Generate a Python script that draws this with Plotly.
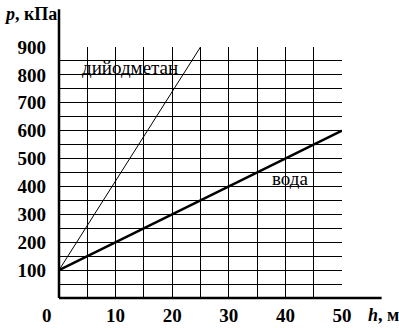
import plotly.graph_objects as go

h_water = [0, 50]
p_water = [100, 600]
h_diiod = [0, 25]
p_diiod = [100, 900]
x_ticks = [10, 20, 30, 40, 50]
y_ticks = [100, 200, 300, 400, 500, 600, 700, 800, 900]

FONT = "'Liberation Serif', 'Times New Roman', 'DejaVu Serif', serif"

fig = go.Figure()
fig.add_trace(go.Scatter(x=h_diiod, y=p_diiod, mode="lines",
                         line=dict(color="black", width=1), showlegend=False))
fig.add_trace(go.Scatter(x=h_water, y=p_water, mode="lines",
                         line=dict(color="black", width=2.5), showlegend=False))

axis_common = dict(showline=False, zeroline=False, showgrid=True, gridcolor="black",
                   gridwidth=1, ticks="", automargin=False,
                   tickfont=dict(family=FONT, size=19, color="black", weight="bold"))
fig.update_xaxes(range=[0, 50], tickvals=x_ticks, ticktext=[str(v) for v in x_ticks],
                 minor=dict(dtick=5, tick0=0, showgrid=True, gridcolor="black", gridwidth=1),
                 ticklabelstandoff=4, **axis_common)
fig.update_yaxes(range=[0, 900], tickvals=y_ticks, ticktext=[str(v) for v in y_ticks],
                 minor=dict(dtick=50, tick0=0, showgrid=True, gridcolor="black", gridwidth=1),
                 ticklabelstandoff=12, **axis_common)

# axes with arrows
fig.add_shape(type="line", xref="paper", yref="paper", x0=0, y0=0, x1=0, y1=1.15,
              line=dict(color="black", width=2.5))
fig.add_shape(type="line", xref="paper", yref="paper", x0=0, y0=0, x1=1.14, y1=0,
              line=dict(color="black", width=2.5))
fig.add_annotation(x=0, y=1.167, xref="paper", yref="paper", ax=0, ay=1,
                   showarrow=True, arrowhead=2, arrowsize=1.2, arrowwidth=2, arrowcolor="black",
                   text="")
fig.add_annotation(x=1.152, y=0, xref="paper", yref="paper", ax=-1, ay=0,
                   showarrow=True, arrowhead=2, arrowsize=1.2, arrowwidth=2, arrowcolor="black",
                   text="")

fig.add_annotation(x=-0.042, y=-0.068, xref="paper", yref="paper", text="<b>0</b>",
                   showarrow=False, font=dict(family=FONT, size=19, color="black"),
                   xanchor="center", yanchor="middle")
fig.add_annotation(x=-0.2, y=1.13, xref="paper", yref="paper",
                   text="<b><i>p</i>, кПа</b>", showarrow=False,
                   font=dict(family=FONT, size=18, color="black"),
                   xanchor="left", yanchor="middle")
fig.add_annotation(x=1.085, y=-0.068, xref="paper", yref="paper",
                   text="<b><i>h</i>, м</b>", showarrow=False,
                   font=dict(family=FONT, size=18, color="black"),
                   xanchor="left", yanchor="middle")

fig.add_annotation(x=3.7, y=828, text="дийодметан", showarrow=False,
                   font=dict(family=FONT, size=19, color="black"),
                   xanchor="left", yanchor="middle")
fig.add_annotation(x=37.3, y=428, text="вода", showarrow=False,
                   font=dict(family=FONT, size=19, color="black"),
                   xanchor="left", yanchor="middle")

fig.update_layout(width=399, height=328, margin=dict(l=59, r=57, t=47, b=30),
                  plot_bgcolor="white", paper_bgcolor="white",
                  font=dict(family=FONT, color="black"))

fig.write_html("out.html")
